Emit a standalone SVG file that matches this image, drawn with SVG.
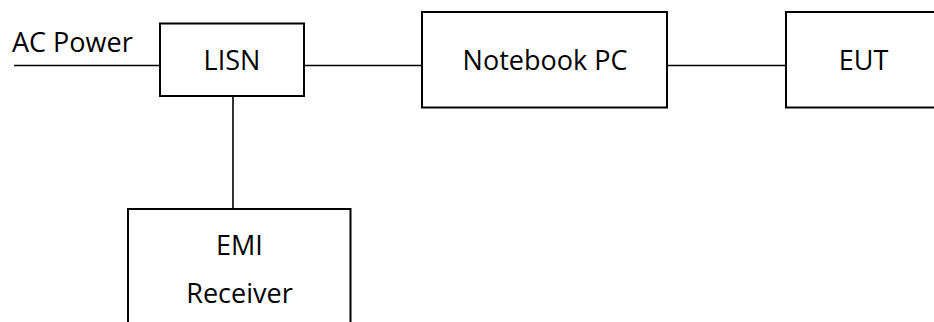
<svg xmlns="http://www.w3.org/2000/svg" width="934" height="322" viewBox="0 0 934 322">
  <style>
    .box { fill: #ffffff; stroke: #000000; stroke-width: 2; }
    .wire { fill: none; stroke: #000000; stroke-width: 1.6; }
    .label { font-family: "Open Sans", "Noto Sans", "Liberation Sans", sans-serif; font-size: 27px; fill: #000000; }
    .mid { text-anchor: middle; }
  </style>
  <rect width="934" height="322" fill="#ffffff"/>

  <!-- wiring between units -->
  <g id="connectors">
    <line class="wire" x1="14" y1="65.5" x2="160" y2="65.5"/>
    <line class="wire" x1="304" y1="65.5" x2="422" y2="65.5"/>
    <line class="wire" x1="667" y1="65.5" x2="786" y2="65.5"/>
    <line class="wire" x1="233" y1="96" x2="233" y2="209"/>
  </g>

  <g id="ac-power">
    <text class="label" x="12" y="52">AC Power</text>
  </g>

  <g id="lisn">
    <rect class="box" x="160" y="23.5" width="144" height="72.5"/>
    <text class="label mid" x="232" y="70">LISN</text>
  </g>

  <g id="notebook-pc">
    <rect class="box" x="422" y="12" width="245" height="95.5"/>
    <text class="label mid" x="545" y="70">Notebook PC</text>
  </g>

  <g id="eut">
    <rect class="box" x="786" y="12" width="160" height="95.5"/>
    <text class="label mid" x="863.5" y="70">EUT</text>
  </g>

  <g id="emi-receiver">
    <rect class="box" x="128" y="209" width="222.5" height="130"/>
    <text class="label mid" x="239.5" y="255">EMI</text>
    <text class="label mid" x="239.5" y="303">Receiver</text>
  </g>
</svg>
